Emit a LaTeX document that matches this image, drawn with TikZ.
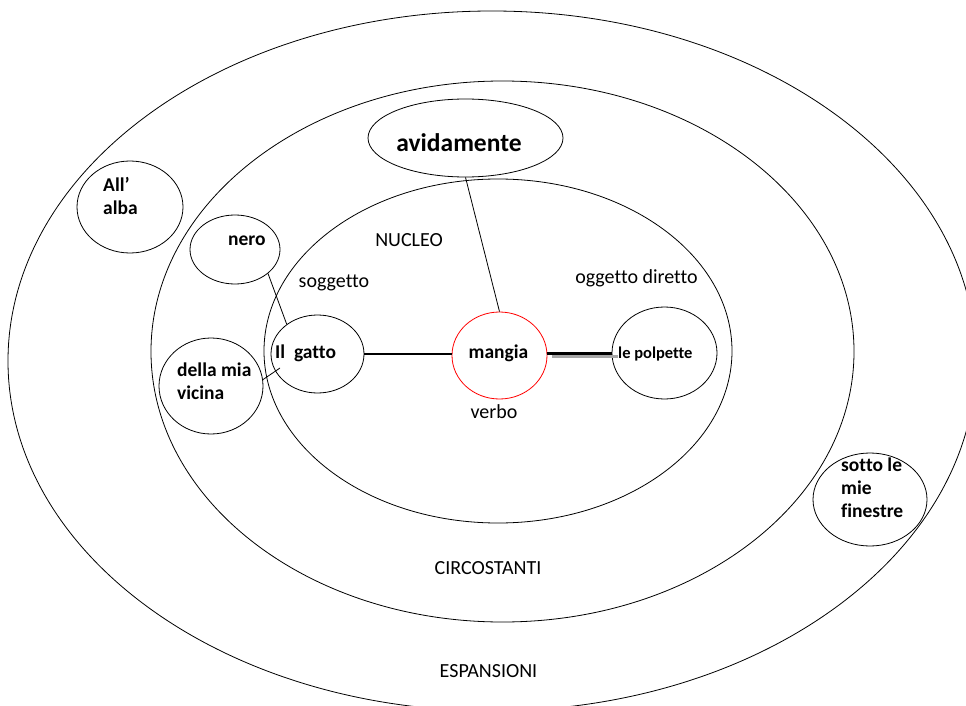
\documentclass[tikz,border=0pt]{standalone}
\usepackage{fontspec}
\setmainfont{Carlito}[Ligatures={NoCommon,NoContextual}]
\usetikzlibrary{shapes.geometric}
\begin{document}
\begin{tikzpicture}[x=1pt,y=-1pt,
  ring/.style={draw=black, line width=0.8pt},
  blob/.style={draw=black, ellipse, line width=0.8pt, inner sep=0pt},
  verbblob/.style={draw=red, ellipse, line width=0.8pt, inner sep=0pt},
  lab/.style={inner sep=0pt, font=\fontsize{20}{23}\selectfont},
  word/.style={inner sep=0pt, font=\fontsize{19.5}{23}\selectfont\bfseries, align=left},
  link/.style={draw=black, line width=0.8pt}]
\useasboundingbox (0,0) rectangle (966,706);
\clip (0,0) rectangle (966,706);
% rings
\draw[ring] (492,361) ellipse [x radius=484, y radius=350];
\draw[ring] (502.5,351.5) ellipse [x radius=351.5, y radius=270.5];
\draw[ring] (498,351) ellipse [x radius=234, y radius=172];
% ring labels
\node[lab, anchor=base] (lnucleo) at (409,246) {NUCLEO};
\node[lab, anchor=base] (lsogg) at (334,287) {soggetto};
\node[lab, anchor=base] (logg) at (636.5,283) {oggetto diretto};
\node[lab, anchor=base] (lverbo) at (494,418) {verbo};
\node[lab, anchor=base] (lcirc) at (488,574) {CIRCOSTANTI};
\node[lab, anchor=base] (lesp) at (488.5,677) {ESPANSIONI};
% ellipses
\node[blob, minimum width=195, minimum height=78] (avid) at (465.5,138) {};
\node[verbblob, minimum width=95, minimum height=87] (mangia) at (499.5,355.5) {};
\node[blob, minimum width=93, minimum height=78] (gatto) at (317.5,354) {};
\node[blob, minimum width=105, minimum height=92] (polp) at (664.5,353) {};
\node[blob, minimum width=90, minimum height=69] (nero) at (235,249.5) {};
\node[blob, minimum width=104, minimum height=96] (della) at (211,386) {};
\node[blob, minimum width=106, minimum height=92] (alba) at (130,207) {};
\node[blob, minimum width=114, minimum height=93] (sotto) at (870,499.5) {};
% words
\node[word, font=\fontsize{25.5}{28}\selectfont\bfseries, anchor=base] (tavid) at (459,151) {avidamente};
\node[word, anchor=base] (tmangia) at (498.5,358) {mangia};
\node[word, anchor=base west] (tgatto) at (275,358) {Il\ \ gatto};
\node[word, font=\fontsize{16.5}{20}\selectfont\bfseries, anchor=base west] (tpolp) at (618,358) {le polpette};
\node[word, anchor=base west] (tnero) at (228,245) {nero};
\node[word, anchor=base west] (tdella) at (177,399) {della mia\\vicina};
\node[word, anchor=base west] (talba) at (103,214) {All’\\alba};
\node[word, anchor=base west] (tsotto) at (841,517) {sotto le\\mie\\finestre};
% connectors
\coordinate (gattoin) at (280,368);
\draw[link] (avid.south) -- (mangia.north);
\draw[link] (nero.-36) -- (gatto.136);
\draw[link] (della.7) -- (gattoin);
\draw[draw=black, line width=1.6pt] (gatto.east) -- (gatto.east -| mangia.west);
\draw[draw=black!35, line width=2.2pt] ([xshift=5pt,yshift=-3.5pt]polp.west -| mangia.east) -- ([xshift=6pt,yshift=-3.5pt]polp.west);
\draw[draw=black, line width=3pt] (polp.west -| mangia.east) -- (polp.west);
\end{tikzpicture}
\end{document}
